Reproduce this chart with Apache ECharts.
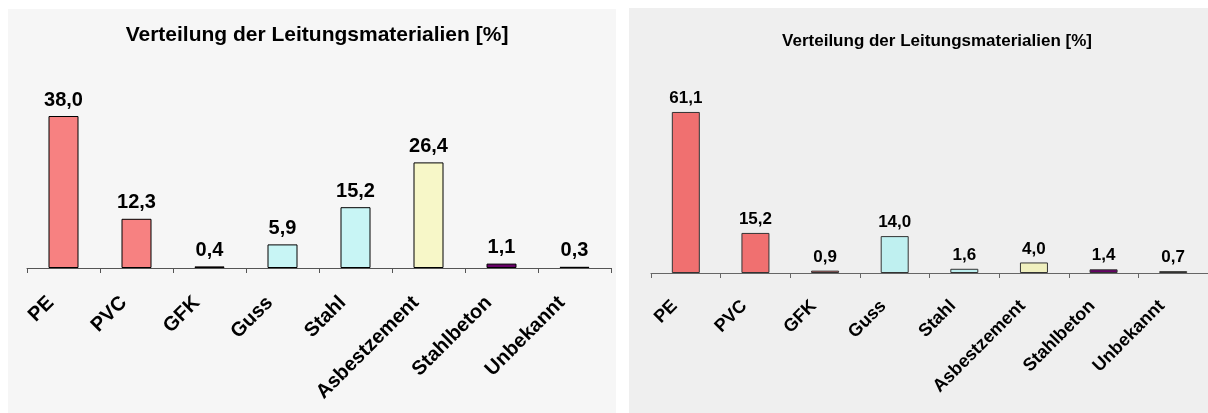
<!DOCTYPE html>
<html>
<head>
<meta charset="utf-8">
<script src="https://cdn.jsdelivr.net/npm/echarts@6/dist/echarts.min.js"></script>
<style>
  html, body { margin: 0; padding: 0; background: #ffffff; }
  #chart { width: 1208px; height: 413px; }
</style>
</head>
<body>
<div id="chart"></div>
<script>
// Pipe materials, share of network length in percent (two networks)
const categories = ['PE', 'PVC', 'GFK', 'Guss', 'Stahl', 'Asbestzement', 'Stahlbeton', 'Unbekannt'];
const leftValues = [38.0, 12.3, 0.4, 5.9, 15.2, 26.4, 1.1, 0.3];
const rightValues = [61.1, 15.2, 0.9, 14.0, 1.6, 4.0, 1.4, 0.7];
const titleText = 'Verteilung der Leitungsmaterialien [%]';

const leftColors = ['#f78181', '#f78181', '#f78181', '#c8f5f5', '#c8f5f5', '#f7f7c8', '#660066', '#999966'];
const rightColors = ['#f07070', '#f07070', '#f07070', '#bff0f0', '#bff0f0', '#f0f0bf', '#660066', '#999966'];

const FONT = 'Liberation Sans, Arial, sans-serif';
const fmt = p => p.value.toFixed(1).replace('.', ',');

function barData(values, colors, border) {
  return values.map((v, i) => ({
    value: v,
    itemStyle: { color: colors[i], borderColor: border, borderWidth: 1 }
  }));
}

function xAxisFor(gridIndex, fontSize, margin, pad, lineColor) {
  return {
    type: 'category', gridIndex, data: categories,
    axisLine: { show: true, lineStyle: { color: lineColor, width: 1 } },
    axisTick: { show: true, inside: false, length: 5, alignWithLabel: false, interval: 0,
      lineStyle: { color: lineColor, width: 1 } },
    axisLabel: {
      rotate: 45, interval: 0, margin,
      color: '#000', fontFamily: FONT, fontWeight: 'bold', fontSize,
      padding: [0, pad, 0, 0]
    }
  };
}

const chart = echarts.init(document.getElementById('chart'), null, { renderer: 'canvas' });
chart.setOption({
  backgroundColor: '#ffffff',
  animation: false,
  graphic: [
    { type: 'rect', z: -10, shape: { x: 8, y: 9, width: 608, height: 404 }, style: { fill: '#f6f6f6' } },
    { type: 'rect', z: -10, shape: { x: 629, y: 8, width: 579, height: 405 }, style: { fill: '#efefef' } }
  ],
  title: [
    { text: titleText, left: 312, top: 20, textAlign: 'center',
      textStyle: { fontFamily: FONT, fontWeight: 'bold', fontSize: 21, color: '#000' } },
    { text: titleText, left: 932, top: 28, textAlign: 'center',
      textStyle: { fontFamily: FONT, fontWeight: 'bold', fontSize: 17, color: '#000' } }
  ],
  grid: [
    { left: 27, top: 108, width: 584, height: 160 },
    { left: 651, top: 88.5, width: 561, height: 184.5 }
  ],
  xAxis: [
    xAxisFor(0, 20, 19, 18, '#555555'),
    xAxisFor(1, 18, 19, 16, '#666666')
  ],
  yAxis: [
    { type: 'value', gridIndex: 0, min: 0, max: 40, show: false },
    { type: 'value', gridIndex: 1, min: 0, max: 70, show: false }
  ],
  series: [
    {
      type: 'bar', xAxisIndex: 0, yAxisIndex: 0, barWidth: 30,
      data: barData(leftValues, leftColors, '#000000'),
      label: { show: true, position: 'top', distance: 6, formatter: fmt,
        color: '#000', fontFamily: FONT, fontWeight: 'bold', fontSize: 20 }
    },
    {
      type: 'bar', xAxisIndex: 1, yAxisIndex: 1, barWidth: 28,
      data: barData(rightValues, rightColors, '#333333'),
      label: { show: true, position: 'top', distance: 5, formatter: fmt,
        color: '#000', fontFamily: FONT, fontWeight: 'bold', fontSize: 17 }
    }
  ]
});
</script>
</body>
</html>
